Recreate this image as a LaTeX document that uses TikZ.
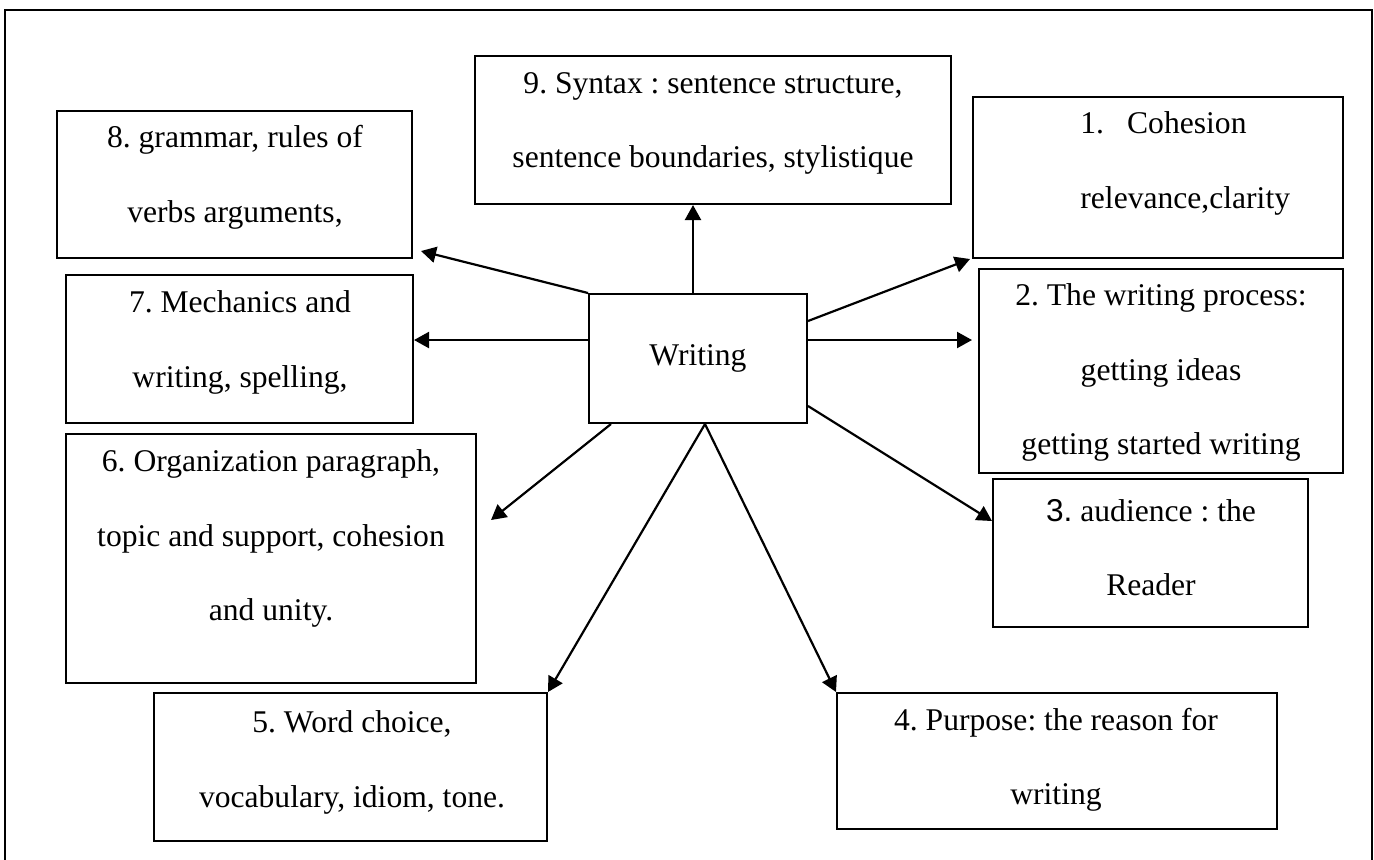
\documentclass[tikz,border=0pt]{standalone}
\usepackage{fontspec}
\setmainfont{Liberation Serif}
\setsansfont{Liberation Sans}
\usetikzlibrary{arrows.meta,calc}
\frenchspacing
\begin{document}
\begin{tikzpicture}[x=0.5pt,y=-0.5pt,
  box/.style={draw, line width=1pt, rectangle, inner sep=0pt},
  txt/.style={align=center, inner sep=0pt, font=\fontsize{15.8pt}{37.25pt}\selectfont},
  arr/.style={line width=1.1pt, -{Triangle[length=7.5pt,width=8pt]}}]
\useasboundingbox (0,0) rectangle (1374,859);
\draw[line width=1pt] (5,870) -- (5,10) -- (1372,10) -- (1372,870);

% boxes
\node[box, minimum width=177.5pt, minimum height=73.5pt] (b8) at (234.5,184.5) {};
\node[box, minimum width=238pt, minimum height=74pt] (b9) at (713,130) {};
\node[box, minimum width=185pt, minimum height=80.5pt] (b1) at (1158,177.5) {};
\node[box, minimum width=173.5pt, minimum height=74pt] (b7) at (239.5,349) {};
\node[box, minimum width=182pt, minimum height=102pt] (b2) at (1161,371) {};
\node[box, minimum width=205pt, minimum height=124.5pt] (b6) at (271,558.5) {};
\node[box, minimum width=157.5pt, minimum height=74pt] (b3) at (1150.5,553) {};
\node[box, minimum width=196.5pt, minimum height=74pt] (b5) at (350.5,767) {};
\node[box, minimum width=220pt, minimum height=68pt] (b4) at (1057,761) {};
\node[box, txt, minimum width=109pt, minimum height=64.5pt] (W) at (698,358.5) {Writing};

% texts
\node[txt] (t8) at (235,177.5) {8. grammar, rules of\\verbs arguments,};
\node[txt] (t9) at (713,123.5) {9. Syntax : sentence structure,\\sentence boundaries, stylistique};
\node[txt, align=left, anchor=west] (t1) at (1080,163.5) {1.\hspace{0.73em}Cohesion\\relevance,clarity};
\node[txt] (t7) at (240,342.5) {7. Mechanics and\\writing, spelling,};
\node[txt] (t2) at (1161,372.5) {2. The writing process:\\getting ideas\\getting started writing};
\node[txt] (t6) at (271,538.5) {6. Organization paragraph,\\topic and support, cohesion\\and unity.};
\node[txt] (t3) at (1151,547.5) {{\sffamily 3.} audience : the\\Reader};
\node[txt] (t5) at (352,762.5) {5. Word choice,\\vocabulary, idiom, tone.};
\node[txt] (t4) at (1056,760) {4. Purpose: the reason for\\writing};

% connectors
\draw[arr] (W.north west) -- ($(b8.south east)+(8,-8)$);
\draw[arr] ($(W.north)+(-5,0)$) -- ($(b9.south)+(-20,0)$);
\draw[arr] ($(W.north east)+(0,28)$) -- ($(b1.south west)+(-2,0)$);
\coordinate (w7) at ($(W.north west)+(0,47)$);
\draw[arr] (w7) -- (w7 -| b7.east);
\coordinate (w2) at ($(W.north east)+(0,47)$);
\draw[arr] (w2) -- ($(w2 -| b2.west)+(-6,0)$);
\draw[arr] ($(W.south east)+(0,-18)$) -- ($(b3.north west)+(0,43)$);
\draw[arr] ($(W.south west)+(23,0)$) -- ($(b6.east)+(14,-38.5)$);
\coordinate (wb) at ($(W.south)+(7,0)$);
\draw[arr] (wb) -- (b5.north east);
\draw[arr] (wb) -- (b4.north west);
\end{tikzpicture}
\end{document}
